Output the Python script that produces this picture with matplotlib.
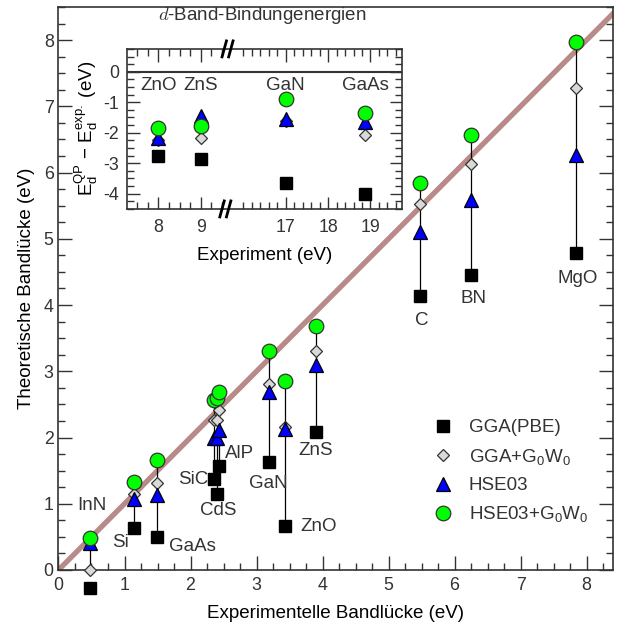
import numpy as np
import matplotlib
matplotlib.use('Agg')
import matplotlib.pyplot as plt
from matplotlib.ticker import MultipleLocator, FixedLocator

plt.rcParams['font.family'] = ['Liberation Sans', 'DejaVu Sans']
plt.rcParams['mathtext.fontset'] = 'custom'
plt.rcParams['mathtext.rm'] = 'Liberation Sans'
plt.rcParams['mathtext.it'] = 'Liberation Sans:italic'
plt.rcParams['text.color'] = '#333333'
plt.rcParams['axes.edgecolor'] = '#333333'
plt.rcParams['xtick.color'] = '#333333'
plt.rcParams['ytick.color'] = '#333333'

# --- band gaps (eV) ---
names = ['InN', 'Si', 'GaAs', 'SiC', 'CdS', 'AlP', 'GaN', 'ZnO', 'ZnS', 'C', 'BN', 'MgO']
exp_gap = [0.48, 1.14, 1.49, 2.36, 2.40, 2.43, 3.19, 3.43, 3.90, 5.48, 6.25, 7.84]
pbe = [-0.27, 0.63, 0.50, 1.37, 1.14, 1.57, 1.63, 0.67, 2.09, 4.13, 4.46, 4.78]
pbe_g0w0 = [0.0, 1.14, 1.31, 2.26, 2.26, 2.41, 2.81, 2.16, 3.30, 5.52, 6.13, 7.28]
hse = [0.41, 1.07, 1.13, 1.99, 2.00, 2.11, 2.68, 2.13, 3.09, 5.11, 5.58, 6.26]
hse_g0w0 = [0.48, 1.33, 1.66, 2.56, 2.60, 2.68, 3.30, 2.86, 3.69, 5.85, 6.57, 7.97]
# label positions
lab_x = [0.50, 0.94, 2.03, 2.04, 2.42, 2.75, 3.18, 3.94, 3.90, 5.51, 6.28, 7.87]
lab_y = [0.98, 0.41, 0.36, 1.37, 0.90, 1.76, 1.31, 0.66, 1.81, 3.77, 4.10, 4.40]

# --- d-band binding energies (inset) ---
d_names = ['ZnO', 'ZnS', 'GaN', 'GaAs']
d_exp = [8.0, 9.0, 17.0, 18.87]
d_pbe = [-2.75, -2.86, -3.65, -4.02]
d_pbe_g0w0 = [-2.25, -2.17, -1.61, -2.07]
d_hse = [-2.18, -1.44, -1.56, -1.65]
d_hse_g0w0 = [-1.85, -1.77, -0.89, -1.36]

labels = ['GGA(PBE)', 'GGA+G$_0$W$_0$', 'HSE03', 'HSE03+G$_0$W$_0$']
styles = [dict(marker='s', ms=8.5, mfc='black', mec='black'),
          dict(marker='D', ms=6.5, mfc='#d9d9d9', mec='#333333', mew=0.9),
          dict(marker='^', ms=10, mfc='#0000ff', mec='black', mew=0.9),
          dict(marker='o', ms=10.5, mfc='#00ff00', mec='#333333', mew=0.9)]

FS = 13.5
TFS = 12.8

fig = plt.figure(figsize=(6.17, 6.35), dpi=100)
ax = fig.add_axes([0.0948, 0.1024, 0.8987, 0.8866])

ax.plot([0, 9], [0, 9], color='#b88a88', lw=3.8, zorder=1, solid_capstyle='butt')
for x, lo, hi in zip(exp_gap, pbe, hse_g0w0):
    ax.plot([x, x], [lo, hi], color='black', lw=0.9, zorder=2)
handles = []
for vals, st, lab in zip([pbe, pbe_g0w0, hse, hse_g0w0], styles, labels):
    h, = ax.plot(exp_gap, vals, ls='none', zorder=3, clip_on=False, label=lab, **st)
    handles.append(h)
for n, x, y in zip(names, lab_x, lab_y):
    ax.text(x, y, n, fontsize=FS, ha='center', va='center')

ax.set_xlim(0, 8.4)
ax.set_ylim(0, 8.5)
ax.xaxis.set_major_locator(MultipleLocator(1))
ax.xaxis.set_minor_locator(MultipleLocator(0.25))
ax.yaxis.set_major_locator(MultipleLocator(1))
ax.yaxis.set_minor_locator(MultipleLocator(0.25))
ax.tick_params(which='both', direction='in', top=False, right=True, labelsize=TFS, width=1)
ax.tick_params(which='major', length=10)
ax.tick_params(which='minor', length=5)
ax.tick_params(axis='x', pad=5)
for s in ax.spines.values():
    s.set_linewidth(1.2)
ax.set_xlabel('Experimentelle Bandlücke (eV)', fontsize=FS, labelpad=8)
ax.set_ylabel('Theoretische Bandlücke (eV)', fontsize=FS, labelpad=6)

ax.legend(handles=handles, loc='center left', bbox_to_anchor=(0.675, 0.257), frameon=False,
          fontsize=FS, handletextpad=0.9, labelspacing=0.55, handlelength=1.0,
          bbox_transform=fig.transFigure)

# --- inset with broken x axis ---
kx = [0, 9.6, 16.0, 40]
ku = [-8, 1.6, 2.0, 26]
def fwd(x):
    return np.interp(x, kx, ku)
def inv(u):
    return np.interp(u, ku, kx)

ins = fig.add_axes([0.206, 0.671, 0.446, 0.252])
ins.set_xscale('function', functions=(fwd, inv))
ins.set_xlim(7.26, 19.75)
ins.set_ylim(-4.5, 0.75)
ins.axhline(0, color='#333333', lw=1.5, zorder=1)
for vals, st in zip([d_pbe, d_pbe_g0w0, d_hse, d_hse_g0w0], styles):
    ins.plot(d_exp, vals, ls='none', zorder=3, **st)
for n, x in zip(d_names, d_exp):
    ins.text(x, -0.45, n, fontsize=FS, ha='center', va='center')
ins.xaxis.set_major_locator(FixedLocator([8, 9, 17, 18, 19]))
ins.xaxis.set_minor_locator(FixedLocator(list(np.arange(7.5, 9.55, 0.25)) + list(np.arange(16.0, 19.8, 0.2))))
ins.set_yticks([-4, -3, -2, -1, 0])
ins.set_yticklabels(['-4', '-3', '-2', '-1', '0'])
ins.yaxis.set_minor_locator(MultipleLocator(0.25))
ins.tick_params(which='both', direction='in', top=True, right=True, labelsize=TFS, width=1)
ins.tick_params(which='major', length=9)
ins.tick_params(which='minor', length=5)
ins.tick_params(axis='x', pad=7)
ins.tick_params(axis='y', pad=6)
for s in ins.spines.values():
    s.set_linewidth(1.2)
ins.set_xlabel('Experiment (eV)', fontsize=FS, labelpad=8)
ins.set_ylabel('E$_\\mathrm{d}^\\mathrm{QP}$ $-$ E$_\\mathrm{d}^\\mathrm{exp.}$ (eV)', fontsize=FS, labelpad=2)
# break marks
for xb, yb in [(0.365, 1.0), (0.357, 0.0)]:
    for dx in (-0.012, 0.012):
        ins.plot([xb + dx - 0.008, xb + dx + 0.008], [yb - 0.05, yb + 0.05],
                 transform=ins.transAxes, color='black', lw=2.0, clip_on=False, zorder=5)
fig.text(262 / 617, 1 - 16 / 635, '$d$-Band-Bindungenergien', fontsize=FS, ha='center', va='center',
         math_fontfamily='cm')

fig.savefig('out.png', dpi=100)
